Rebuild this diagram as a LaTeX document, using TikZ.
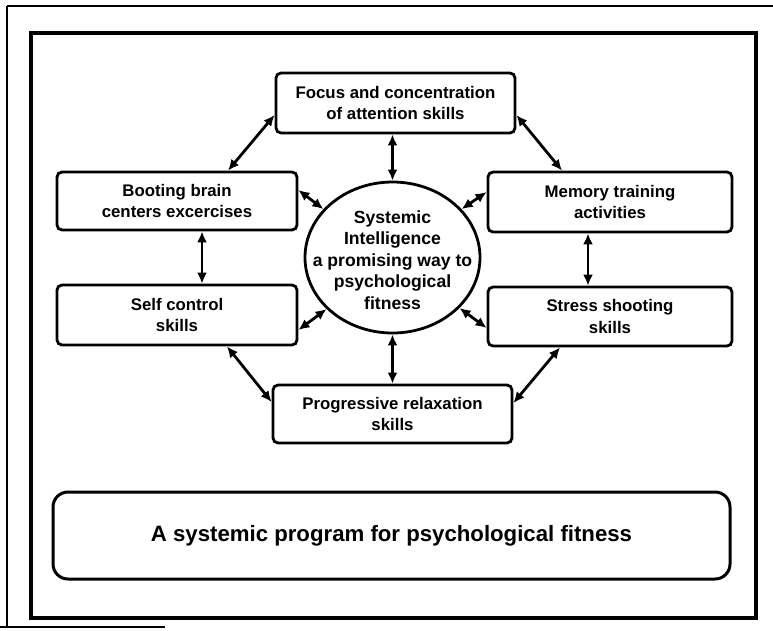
\documentclass[tikz,border=0pt]{standalone}
\usepackage{fontspec}
\setmainfont{Liberation Sans}
\usetikzlibrary{arrows.meta,shapes.geometric}

\begin{document}
\begin{tikzpicture}[x=1pt,y=-1pt,
  stage/.style={draw, line width=2.8pt, rounded corners=5pt,
    minimum width=240pt, minimum height=59pt, inner sep=0pt, align=center,
    font=\bfseries\fontsize{16.8}{21.5}\selectfont},
  hub/.style={draw, ellipse, line width=2.8pt, minimum width=175pt,
    minimum height=151pt, inner sep=0pt},
  hubtext/.style={inner sep=0pt, align=center,
    font=\bfseries\fontsize{17.6}{21.5}\selectfont},
  link/.style={{Latex[length=11pt,width=10pt]}-{Latex[length=11pt,width=10pt]},
    line width=2.8pt},
]
\useasboundingbox (0,0) rectangle (773,630);

% outer frame (top, left and a short piece of the bottom)
\draw[line width=1.8pt] (7,6) -- (773,6);
\draw[line width=1.8pt] (7,6) -- (7,627);
\draw[line width=1.8pt] (0,627) -- (165,627);

% inner frame
\draw[line width=3.2pt] (31,33) rectangle (756,618);

% central hub: the ellipse keeps its own size, the text sits inside it
\node[hub] (core) at (392.5,257.5) {};
\node[hubtext] (coretext) at (392.5,260)
  {Systemic\\Intelligence\\a promising way to\\psychological\\fitness};

% surrounding stages
\node[stage, minimum width=239pt, minimum height=60pt] (focus) at (395.5,103)
  {Focus and concentration\\of attention skills};
\node[stage, minimum height=58pt] (boot) at (177,201)
  {Booting brain\\centers excercises};
\node[stage, minimum width=244pt, minimum height=60pt] (mem) at (610,202)
  {Memory training\\activities};
\node[stage, minimum height=60pt] (self) at (177,315)
  {Self control\\skills};
\node[stage, minimum width=244pt] (stress) at (610,316.5)
  {Stress shooting\\skills};
\node[stage, minimum width=239pt, minimum height=58pt] (prog) at (392.5,414)
  {Progressive relaxation\\skills};

% program title
\node[draw, line width=3pt, rounded corners=15pt, minimum width=677pt,
  minimum height=87pt, inner sep=0pt,
  font=\bfseries\fontsize{22.2}{26}\selectfont] (title) at (391.5,535.5)
  {A systemic program for psychological fitness};

% two-way links
\draw[link] ([yshift=-12pt]focus.west) -- ([xshift=51pt]boot.north);
\draw[link] ([yshift=-12pt]focus.east) -- ([xshift=-48pt]mem.north);
\draw[link] (core.north |- focus.south) -- (core.north);
\draw[link] ([yshift=11pt]boot.east) -- (core.145);
\draw[link] ([yshift=10pt]mem.west) -- (core.35);
\draw[link] ([xshift=25pt]boot.south) -- ([xshift=25pt]self.north);
\draw[link] ([xshift=-22pt]mem.south) -- ([xshift=-22pt]stress.north);
\draw[link] ([yshift=-15pt]self.east) -- (core.218);
\draw[link] ([yshift=-11.5pt]stress.west) -- (core.323);
\draw[link] (core.south) -- (core.south |- prog.north);
\draw[link] ([xshift=50pt]self.south) -- ([yshift=12pt]prog.west);
\draw[link] ([xshift=-50pt]stress.south) -- ([yshift=11pt]prog.east);
\end{tikzpicture}
\end{document}
